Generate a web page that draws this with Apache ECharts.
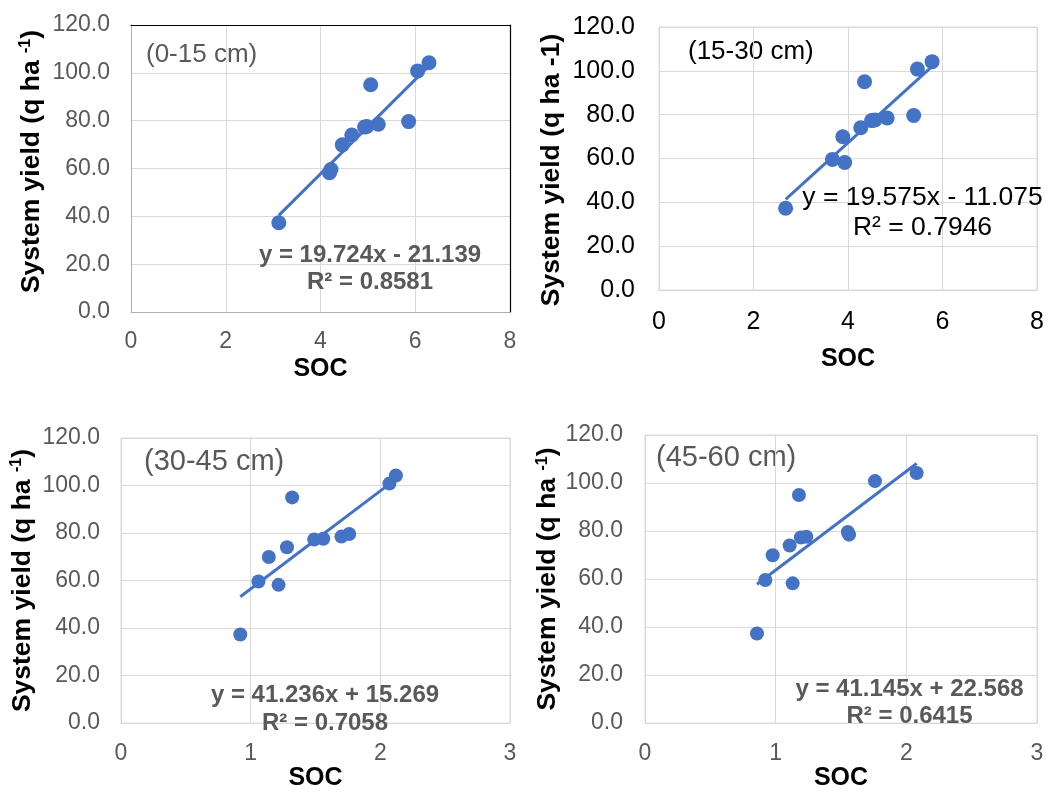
<!DOCTYPE html>
<html>
<head>
<meta charset="utf-8">
<script src="https://cdn.jsdelivr.net/npm/echarts@6/dist/echarts.min.js"></script>
<style>
  html, body { margin: 0; padding: 0; background: #ffffff; }
  #chart { width: 1048px; height: 792px; }
</style>
</head>
<body>
<div id="chart"></div>
<script>
// System yield (q/ha) of the twelve treatments, same order in every soil layer
const systemYield = [37.3, 58.2, 59.6, 69.9, 74.0, 77.3, 77.6, 78.5, 79.6, 95.0, 100.8, 104.2];

// Soil organic carbon per layer, one value per treatment
const soc0to15  = [3.12, 4.19, 4.22, 4.46, 4.66, 4.93, 4.98, 5.22, 5.86, 5.06, 6.05, 6.29];
const soc15to30 = [2.68, 3.93, 3.67, 3.89, 4.27, 4.50, 4.57, 4.83, 5.39, 4.35, 5.47, 5.78];
const soc30to45 = [0.92, 1.215, 1.06, 1.14, 1.28, 1.49, 1.56, 1.70, 1.76, 1.32, 2.07, 2.12];
const soc45to60 = [0.857, 1.13, 0.921, 0.977, 1.107, 1.193, 1.234, 1.562, 1.552, 1.178, 1.76, 2.079];

const depthLabels = ['(0-15 cm)', '(15-30 cm)', '(30-45 cm)', '(45-60 cm)'];

// Linear trend lines: y = slope * x + intercept
const slopes     = [19.724, 19.575, 41.236, 41.145];
const intercepts = [-21.139, -11.075, 15.269, 22.568];
const rSquared   = [0.8581, 0.7946, 0.7058, 0.6415];

// Axis ranges
const yMax = 120, yStep = 20;
const xMax  = [8, 8, 3, 3];
const xStep = [2, 2, 1, 1];

const socByLayer = [soc0to15, soc15to30, soc30to45, soc45to60];

const FONT = '"Liberation Sans", Arial, sans-serif';
const BLUE = '#4472C4';
const GREY = '#595959';

// Layout and styling of the four panels
const panels = [
  { grid: { left: 131, top: 25, width: 379, height: 287 }, tickFont: 23, tickColor: GREY,
    yLabelMargin: 21, xLabelMargin: 18, xNameGap: 45, yNameGap: 86, yNamePad: [0, 0, 0, 14],
    superscript: true, darkFrame: true, border: '#B0B0B0',
    depthAt: [146, 55], depthFont: 26, depthColor: GREY,
    eqAt: [370, 268.5], eqFont: 24, eqWeight: 'bold', eqColor: GREY, eqLine: 27, dot: 15 },
  { grid: { left: 659, top: 27, width: 378, height: 263 }, tickFont: 25, tickColor: '#000000',
    yLabelMargin: 24, xLabelMargin: 20, xNameGap: 57, yNameGap: 94, yNamePad: [0, 23, 0, 0],
    superscript: false, darkFrame: false, border: '#D9D9D9',
    depthAt: [688, 52], depthFont: 26, depthColor: '#000000',
    eqAt: [922.5, 213], eqFont: 26.5, eqWeight: 'normal', eqColor: '#000000', eqLine: 30, dot: 15 },
  { grid: { left: 121, top: 438, width: 389, height: 297 }, tickFont: 23, tickColor: GREY,
    yLabelMargin: 21, xLabelMargin: 19, xNameGap: 32, yNameGap: 85, yNamePad: [0, 0, 0, 0],
    superscript: true, darkFrame: false, border: '#D9D9D9',
    depthAt: [144, 462], depthFont: 29, depthColor: GREY,
    eqAt: [325, 709], eqFont: 24, eqWeight: 'bold', eqColor: GREY, eqLine: 28, dot: 14 },
  { grid: { left: 645, top: 435, width: 392, height: 298 }, tickFont: 23, tickColor: GREY,
    yLabelMargin: 22, xLabelMargin: 19, xNameGap: 32, yNameGap: 80, yNamePad: [0, 0, 0, 0],
    superscript: true, darkFrame: false, border: '#D9D9D9',
    depthAt: [656, 458], depthFont: 29, depthColor: GREY,
    eqAt: [909.5, 703], eqFont: 24, eqWeight: 'bold', eqColor: GREY, eqLine: 27.4, dot: 14 }
];

const grids = [], xAxes = [], yAxes = [], series = [], graphics = [];

panels.forEach((p, i) => {
  grids.push(Object.assign({
    show: !p.darkFrame, borderColor: '#D9D9D9', borderWidth: 1, backgroundColor: 'transparent'
  }, p.grid));

  xAxes.push({
    type: 'value', gridIndex: i, min: 0, max: xMax[i], interval: xStep[i],
    name: 'SOC', nameLocation: 'middle', nameGap: p.xNameGap,
    nameTextStyle: { fontFamily: FONT, fontSize: 25, fontWeight: 'bold', color: '#000000' },
    axisLine: { show: true, lineStyle: { color: p.border, width: 1 } },
    axisTick: { show: false },
    axisLabel: { fontFamily: FONT, fontSize: p.tickFont, color: p.tickColor, margin: p.xLabelMargin },
    splitLine: { show: true, lineStyle: { color: '#D9D9D9', width: 1 } }
  });

  const yName = p.superscript
    ? '{n|System yield (q ha }{s|-1}{n|)}'
    : '{n|System yield (q ha -1)}';
  yAxes.push({
    type: 'value', gridIndex: i, min: 0, max: yMax, interval: yStep,
    name: yName, nameLocation: 'middle', nameRotate: 90, nameGap: p.yNameGap,
    nameTextStyle: {
      padding: p.yNamePad,
      rich: {
        n: { fontFamily: FONT, fontSize: 26.5, fontWeight: 'bold', color: '#000000' },
        s: { fontFamily: FONT, fontSize: 16, fontWeight: 'bold', color: '#000000', verticalAlign: 'top' }
      }
    },
    axisLine: { show: true, lineStyle: { color: p.border, width: 1 } },
    axisTick: { show: false },
    axisLabel: {
      fontFamily: FONT, fontSize: p.tickFont, color: p.tickColor, margin: p.yLabelMargin,
      formatter: v => v.toFixed(1)
    },
    splitLine: { show: true, lineStyle: { color: '#D9D9D9', width: 1 } }
  });

  const soc = socByLayer[i];
  series.push({
    type: 'scatter', xAxisIndex: i, yAxisIndex: i,
    symbol: 'circle', symbolSize: p.dot,
    itemStyle: { color: BLUE, opacity: 1 },
    data: soc.map((x, k) => [x, systemYield[k]]),
    z: 2, silent: true
  });

  const x0 = Math.min(...soc), x1 = Math.max(...soc);
  series.push({
    type: 'line', xAxisIndex: i, yAxisIndex: i,
    showSymbol: false, symbol: 'none',
    lineStyle: { color: BLUE, width: 3 },
    data: [[x0, slopes[i] * x0 + intercepts[i]], [x1, slopes[i] * x1 + intercepts[i]]],
    z: 3, silent: true
  });

  graphics.push({
    type: 'text', x: p.depthAt[0], y: p.depthAt[1], silent: true,
    style: {
      text: depthLabels[i], fill: p.depthColor, align: 'left', verticalAlign: 'middle',
      font: `normal ${p.depthFont}px ${FONT}`
    }
  });

  const sign = intercepts[i] < 0 ? '-' : '+';
  const eqText = `y = ${slopes[i].toFixed(3)}x ${sign} ${Math.abs(intercepts[i]).toFixed(3)}\nR² = ${rSquared[i].toFixed(4)}`;
  graphics.push({
    type: 'text', x: p.eqAt[0], y: p.eqAt[1], silent: true, z: 10,
    style: {
      text: eqText, fill: p.eqColor, align: 'center', verticalAlign: 'middle',
      font: `${p.eqWeight} ${p.eqFont}px ${FONT}`, lineHeight: p.eqLine
    }
  });
});

// Dark frame on the top and right edges of the first panel
xAxes.push({
  type: 'value', gridIndex: 0, position: 'top', min: 0, max: xMax[0], interval: xStep[0],
  axisLine: { show: true, onZero: false, lineStyle: { color: '#000000', width: 1.2 } },
  axisTick: { show: false }, axisLabel: { show: false }, splitLine: { show: false }
});
yAxes.push({
  type: 'value', gridIndex: 0, position: 'right', min: 0, max: yMax, interval: yStep,
  axisLine: { show: true, onZero: false, lineStyle: { color: '#000000', width: 1.2 } },
  axisTick: { show: false }, axisLabel: { show: false }, splitLine: { show: false }
});

const chart = echarts.init(document.getElementById('chart'), null, { renderer: 'canvas' });
chart.setOption({
  backgroundColor: '#ffffff',
  animation: false,
  grid: grids,
  xAxis: xAxes,
  yAxis: yAxes,
  series: series,
  graphic: graphics
});
</script>
</body>
</html>
